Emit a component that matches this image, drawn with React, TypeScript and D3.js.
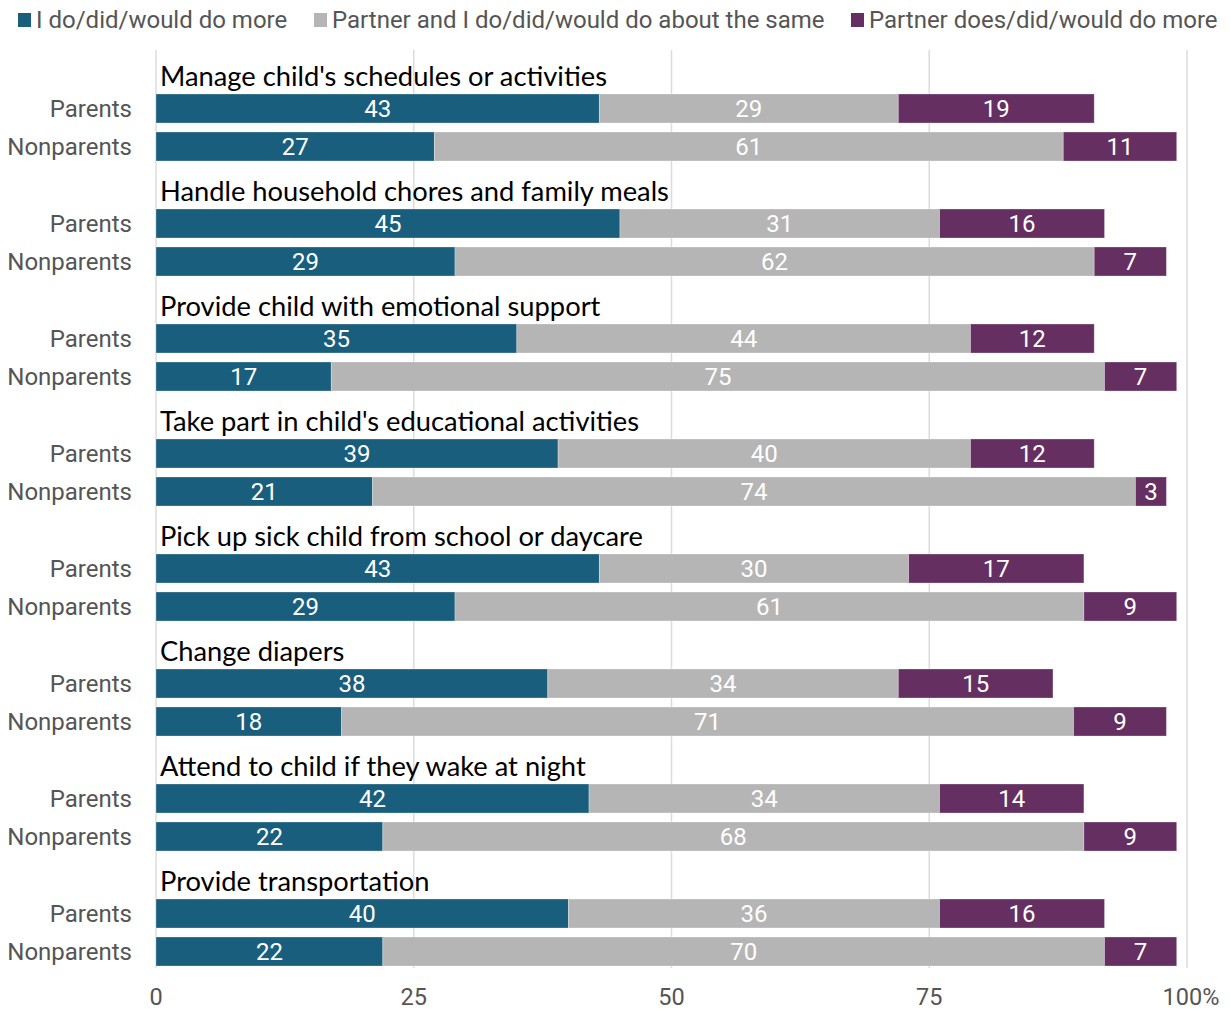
import React from "react";
import * as d3 from "d3";

const categories = [
  "Manage child's schedules or activities",
  "Handle household chores and family meals",
  "Provide child with emotional support",
  "Take part in child's educational activities",
  "Pick up sick child from school or daycare",
  "Change diapers",
  "Attend to child if they wake at night",
  "Provide transportation",
];
const groups = ["Parents", "Nonparents"];
const seriesNames = [
  "I do/did/would do more",
  "Partner and I do/did/would do about the same",
  "Partner does/did/would do more",
];
const iDoMore = [
  [43, 27], [45, 29], [35, 17], [39, 21], [43, 29], [38, 18], [42, 22], [40, 22],
];
const same = [
  [29, 61], [31, 62], [44, 75], [40, 74], [30, 61], [34, 71], [34, 68], [36, 70],
];
const partnerMore = [
  [19, 11], [16, 7], [12, 7], [12, 3], [17, 9], [15, 9], [14, 9], [16, 7],
];
const ticks = [0, 25, 50, 75, 100];
const colors = ["#1a5e7e", "#b5b5b5", "#652f62"];

const W = 1231;
const H = 1013;

export default function App() {
  const x = d3.scaleLinear().domain([0, 100]).range([156, 1187]);
  const yCat = d3
    .scaleBand<number>()
    .domain(d3.range(categories.length))
    .range([55, 55 + 115 * categories.length])
    .padding(0);
  const yRow = d3.scaleBand<number>().domain([0, 1]).range([39, 106]).paddingInner(9 / 38).paddingOuter(0);
  const series = [iDoMore, same, partnerMore];
  const legendX = [18, 314, 851];
  const font = "Roboto, sans-serif";

  return (
    <svg width={W} height={H} style={{ display: "block", position: "absolute", left: 0, top: 0 }}>
      <rect width={W} height={H} fill="#fff" />
      {ticks.map((t) => (
        <line key={t} x1={x(t)} x2={x(t)} y1={50} y2={968} stroke="#dcdcdc" strokeWidth={1.5} />
      ))}
      {categories.map((c, i) => {
        const y0 = yCat(i)!;
        return (
          <g key={c}>
            <text x={160} y={y0 + 31} fontFamily="Lato, sans-serif" fontSize={27.3} fill="#000">
              {c}
            </text>
            {groups.map((g, j) => {
              const yy = y0 + yRow(j)!;
              const h = yRow.bandwidth();
              let acc = 0;
              return (
                <g key={g}>
                  <text x={132} y={yy + h / 2} dy="0.36em" textAnchor="end" fontFamily={font} fontSize={24} fill="#555">
                    {g}
                  </text>
                  {series.map((s, k) => {
                    const v = s[i][j];
                    const start = acc;
                    acc += v;
                    return (
                      <g key={k}>
                        <rect x={x(start)} y={yy} width={x(start + v) - x(start)} height={h} fill={colors[k]} stroke="#fff" strokeOpacity={0.35} strokeWidth={0.8} />
                        <text x={(x(start) + x(start + v)) / 2} y={yy + h / 2} dy="0.36em" textAnchor="middle" fontFamily={font} fontSize={24} fill="#fff">
                          {v}
                        </text>
                      </g>
                    );
                  })}
                </g>
              );
            })}
          </g>
        );
      })}
      {ticks.map((t) => (
        <text key={t} x={t === 100 ? x(t) + 4 : x(t)} y={1005} textAnchor="middle" fontFamily={font} fontSize={23.5} fill="#555">
          {t === 100 ? "100%" : t}
        </text>
      ))}
      {seriesNames.map((n, k) => (
        <g key={n}>
          <rect x={legendX[k]} y={13} width={13} height={14} fill={colors[k]} />
          <text x={legendX[k] + 18} y={28} fontFamily={font} fontSize={24} fill="#555">
            {n}
          </text>
        </g>
      ))}
    </svg>
  );
}
